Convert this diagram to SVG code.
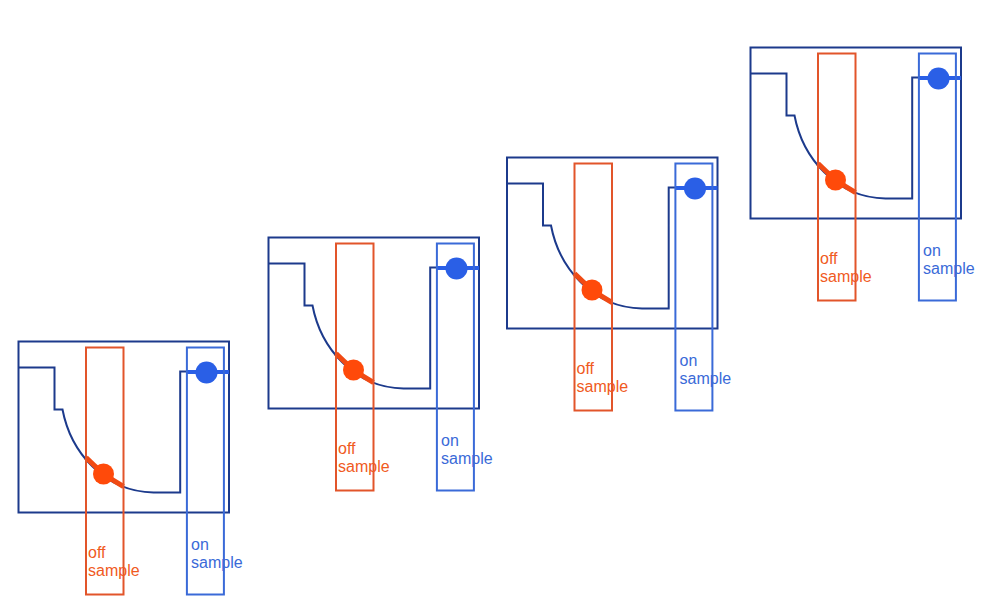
<svg xmlns="http://www.w3.org/2000/svg" width="1000" height="600" viewBox="0 0 1000 600">
<defs>
<style>
.frame{fill:none;stroke:#1c3a8c;stroke-width:2}
.curve{fill:none;stroke:#1c3a8c;stroke-width:2}
.offbox{fill:none;stroke:#e2552a;stroke-width:2}
.onbox{fill:none;stroke:#3a6ad8;stroke-width:2}
.offseg{fill:none;stroke:#f04a14;stroke-width:5}
.onseg{fill:none;stroke:#2a5fe6;stroke-width:4}
.offdot{fill:#ff4a0a}
.ondot{fill:#2a5fe6}
.offtxt{font-family:"Liberation Sans",Arial,sans-serif;font-size:16px;fill:#f05a22}
.ontxt{font-family:"Liberation Sans",Arial,sans-serif;font-size:16px;fill:#3a6ad8}
</style>
<g id="panel">
<rect class="frame" x="0" y="0" width="210.5" height="171"/>
<path class="curve" d="M0,26 H36 V68 H44 C52,110 85,150 135,151 H161.7 V30 H210.5"/>
<path class="offseg" d="M67.5,116 Q85,134 105,145"/>
<path class="onseg" d="M168.4,30.5 H210.5"/>
<rect class="offbox" x="67.5" y="6" width="37.5" height="247"/>
<rect class="onbox" x="168.4" y="6" width="37" height="247"/>
<circle class="offdot" cx="85" cy="132.5" r="10.5"/>
<circle class="ondot" cx="188" cy="31" r="11"/>
<text class="offtxt" x="69.5" y="216">off</text>
<text class="offtxt" x="69.5" y="234">sample</text>
<text class="ontxt" x="172.5" y="208.5">on</text>
<text class="ontxt" x="172.5" y="226.5">sample</text>
</g>
</defs>
<rect width="1000" height="600" fill="#ffffff"/>
<g id="panel1" transform="translate(18.5,341.5)"><use href="#panel"/></g>
<g id="panel2" transform="translate(268.5,237.5)"><use href="#panel"/></g>
<g id="panel3" transform="translate(507,157.5)"><use href="#panel"/></g>
<g id="panel4" transform="translate(750.5,47.5)"><use href="#panel"/></g>
</svg>
